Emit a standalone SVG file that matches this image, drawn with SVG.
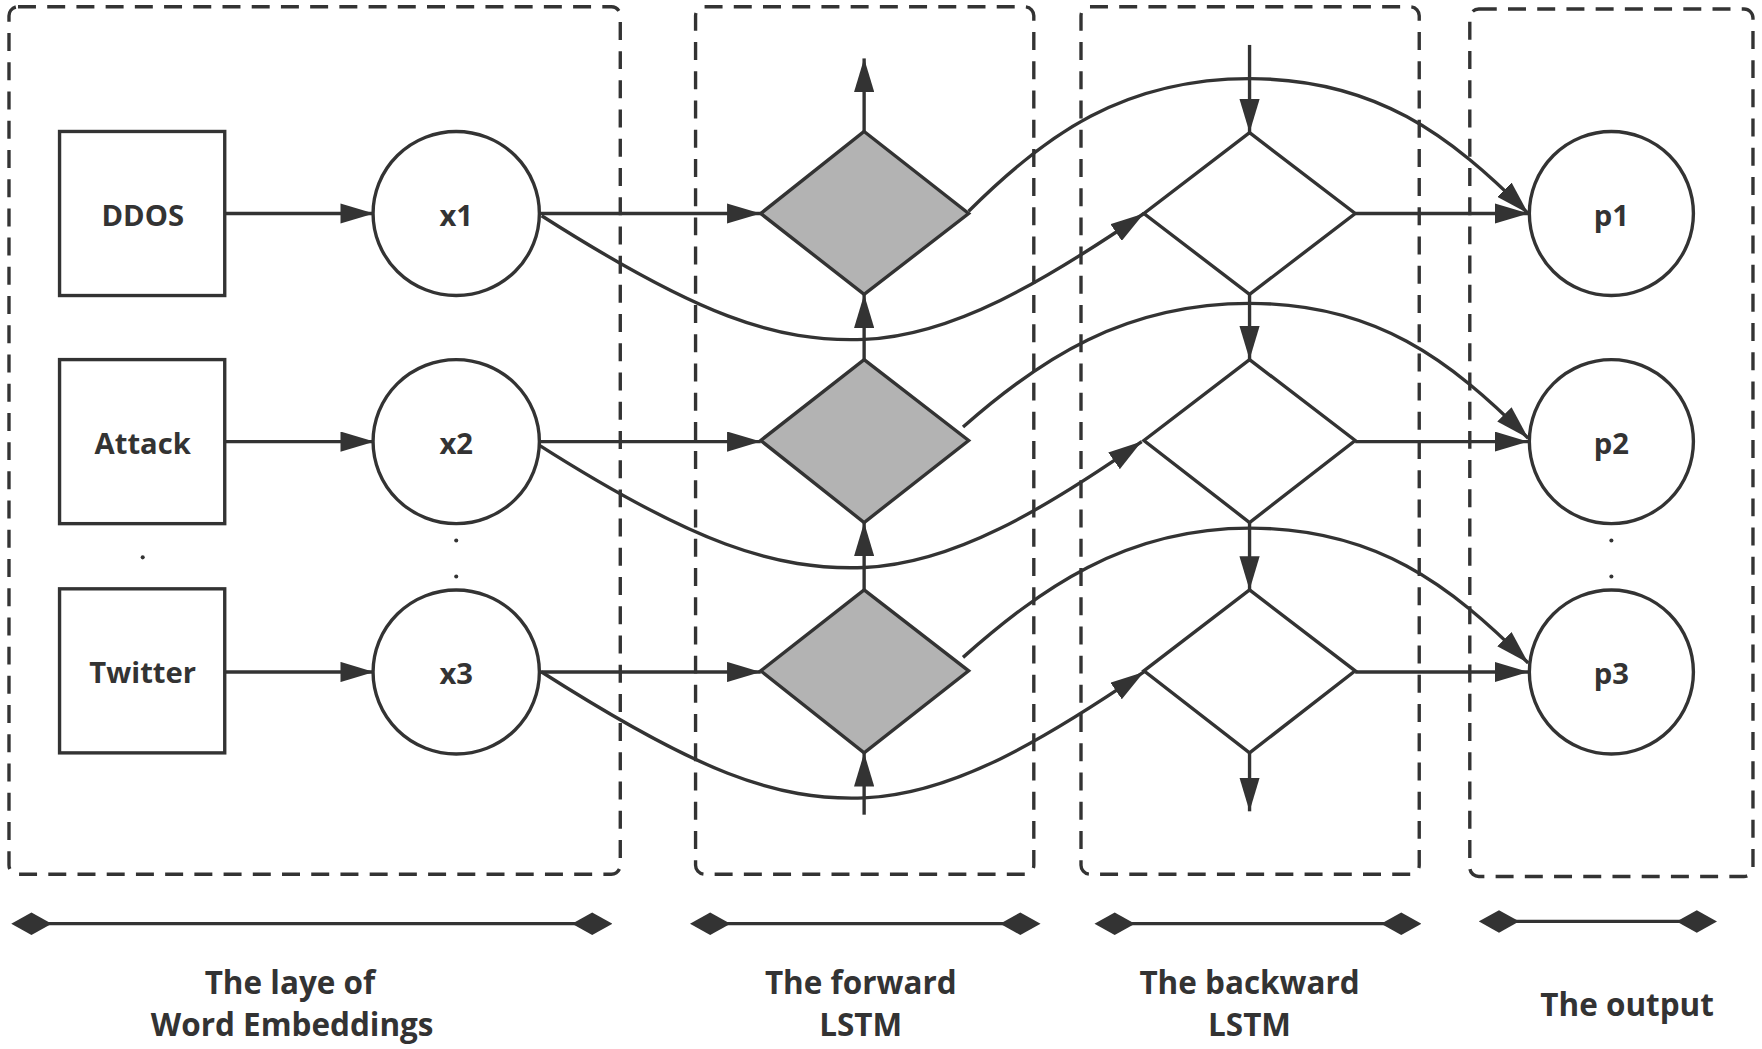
<svg xmlns="http://www.w3.org/2000/svg" width="1762" height="1049" viewBox="0 0 1762 1049">
<defs>
<style>
.n{fill:#fff;stroke:#333;stroke-width:3}
.g{fill:#b3b3b3;stroke:#333;stroke-width:3}
.c{fill:none;stroke:#333;stroke-width:3}
.d{fill:none;stroke:#333;stroke-width:3;stroke-dasharray:16 10}
.t{font-family:"Open Sans","Liberation Sans",sans-serif;font-weight:bold;font-size:26px;fill:#333;text-anchor:middle}
.l{font-family:"Open Sans","Liberation Sans",sans-serif;font-weight:bold;font-size:28px;fill:#333;text-anchor:middle}
</style>
<marker id="a" viewBox="0 0 30 18" refX="30" refY="9" markerWidth="30" markerHeight="18" markerUnits="userSpaceOnUse" orient="auto"><path d="M0,0L30,9L0,18z" fill="#333"/></marker>
<marker id="dm" viewBox="0 0 36 20" refX="18" refY="10" markerWidth="36" markerHeight="20" markerUnits="userSpaceOnUse" orient="auto"><path d="M0,10L18,0L36,10L18,20z" fill="#333"/></marker>
</defs>
<rect width="1762" height="1049" fill="#fff"/>
<g transform="scale(1.1237)">
<g id="groups">
<rect class="d" x="8" y="6" width="544" height="772" rx="8"/>
<rect class="d" x="619" y="6" width="301" height="772" rx="8"/>
<rect class="d" x="962" y="6" width="301" height="772" rx="8"/>
<rect class="d" x="1308" y="8" width="252" height="772" rx="8"/>
</g>
<g id="connectors">
<path class="c" marker-end="url(#a)" d="M200,190H333"/>
<path class="c" marker-end="url(#a)" d="M200,393H333"/>
<path class="c" marker-end="url(#a)" d="M200,598H333"/>
<path class="c" marker-end="url(#a)" d="M480,190H677"/>
<path class="c" marker-end="url(#a)" d="M480,393H677"/>
<path class="c" marker-end="url(#a)" d="M480,598H677"/>
<path class="c" marker-end="url(#a)" d="M769,117V52"/>
<path class="c" marker-end="url(#a)" d="M769,320V262"/>
<path class="c" marker-end="url(#a)" d="M769,525V465"/>
<path class="c" marker-end="url(#a)" d="M769,725V670"/>
<path class="c" marker-end="url(#a)" d="M1112,40V118"/>
<path class="c" marker-end="url(#a)" d="M1112,262V320"/>
<path class="c" marker-end="url(#a)" d="M1112,465V525"/>
<path class="c" marker-end="url(#a)" d="M1112,670V722"/>
<path class="c" marker-end="url(#a)" d="M1206,190H1360"/>
<path class="c" marker-end="url(#a)" d="M1206,393H1360"/>
<path class="c" marker-end="url(#a)" d="M1206,598H1360"/>
<path class="c" marker-end="url(#a)" d="M482,192C620,280 690,305 769,302S930,250 1018,190"/>
<path class="c" marker-end="url(#a)" d="M478,395C616,483 690,508 769,505S930,453 1016,393"/>
<path class="c" marker-end="url(#a)" d="M482,598C620,686 690,713 769,710S930,658 1018,598"/>
<path class="c" marker-end="url(#a)" d="M862,188C930,120 1000,70 1112,70S1290,120 1360,190"/>
<path class="c" marker-end="url(#a)" d="M857,380C925,320 1000,270 1112,270S1290,320 1360,390"/>
<path class="c" marker-end="url(#a)" d="M857,585C925,525 1000,470 1112,470S1290,520 1360,590"/>
<path class="c" marker-start="url(#dm)" marker-end="url(#dm)" d="M28,822H527"/>
<path class="c" marker-start="url(#dm)" marker-end="url(#dm)" d="M632,822H908"/>
<path class="c" marker-start="url(#dm)" marker-end="url(#dm)" d="M992,822H1247"/>
<path class="c" marker-start="url(#dm)" marker-end="url(#dm)" d="M1334,820H1510"/>
</g>
<g id="ddos"><rect class="n" x="53" y="117" width="147" height="146"/><text class="t" x="127" y="201">DDOS</text></g>
<g id="attack"><rect class="n" x="53" y="320" width="147" height="146"/><text class="t" x="127" y="404">Attack</text></g>
<g id="twitter"><rect class="n" x="53" y="524" width="147" height="146"/><text class="t" x="127" y="608">Twitter</text></g>
<g id="x1"><ellipse class="n" cx="406" cy="190" rx="74" ry="73"/><text class="t" x="406" y="201">x1</text></g>
<g id="x2"><ellipse class="n" cx="406" cy="393" rx="74" ry="73"/><text class="t" x="406" y="404">x2</text></g>
<g id="x3"><ellipse class="n" cx="406" cy="598" rx="74" ry="73"/><text class="t" x="406" y="609">x3</text></g>
<g id="f1"><path class="g" d="M769,117L862,190L769,262L677,190z"/></g>
<g id="f2"><path class="g" d="M769,320L862,392L769,465L677,392z"/></g>
<g id="f3"><path class="g" d="M769,525L862,597L769,670L677,597z"/></g>
<g id="b1"><path class="n" d="M1112,118L1206,190L1112,262L1018,190z"/></g>
<g id="b2"><path class="n" d="M1112,320L1206,392L1112,465L1018,392z"/></g>
<g id="b3"><path class="n" d="M1112,525L1206,597L1112,670L1018,597z"/></g>
<g id="p1"><ellipse class="n" cx="1434" cy="190" rx="73" ry="73"/><text class="t" x="1434" y="201">p1</text></g>
<g id="p2"><ellipse class="n" cx="1434" cy="393" rx="73" ry="73"/><text class="t" x="1434" y="404">p2</text></g>
<g id="p3"><ellipse class="n" cx="1434" cy="598" rx="73" ry="73"/><text class="t" x="1434" y="609">p3</text></g>
<g id="dots" fill="#333"><circle cx="127" cy="496" r="1.8"/><circle cx="406" cy="481" r="1.8"/><circle cx="406" cy="513" r="1.8"/><circle cx="1434" cy="481" r="1.8"/><circle cx="1434" cy="513" r="1.8"/></g>
<g id="labels">
<text class="l" x="258" y="885">The laye of</text><text class="l" x="260" y="922">Word Embeddings</text>
<text class="l" x="766" y="885">The forward</text><text class="l" x="766" y="922">LSTM</text>
<text class="l" x="1112" y="885">The backward</text><text class="l" x="1112" y="922">LSTM</text>
<text class="l" x="1448" y="904">The output</text>
</g>
</g>
</svg>
